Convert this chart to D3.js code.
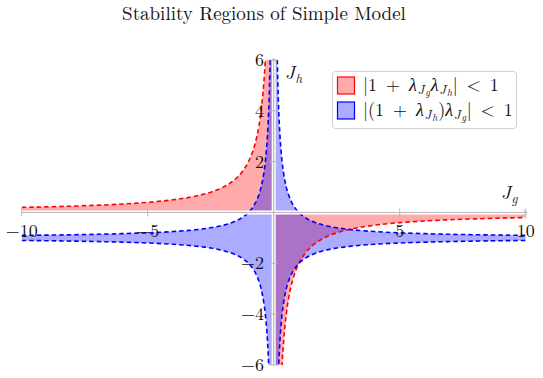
<!DOCTYPE html>
<html>
<head>
<meta charset="utf-8">
<script src="https://cdn.jsdelivr.net/npm/d3@7"></script>
<style>
  body { margin: 0; background: #fff; }
  svg text { font-family: "Latin Modern Roman", "Liberation Serif", serif; }
</style>
</head>
<body>
<div id="chart"></div>
<script>
// sample points, left branches (x < 0) and right branches (x > 0)
const xLeft = [-10, -8, -6, -5, -4, -3, -2.5, -2, -1.6, -1.25, -1, -0.8, -0.667, -0.5, -0.4, -0.333,
  -0.286, -0.25, -0.222, -0.2, -0.182, -0.167, -0.154, -0.143, -0.13, -0.05];
const redLeft = [0.2, 0.25, 0.333, 0.4, 0.5, 0.667, 0.8, 1, 1.25, 1.6, 2, 2.5, 3, 4, 5, 6,
  7, 8, 9, 10, 11, 12, 13, 14, 15.4, 40];
const blueUpLeft = [-0.9, -0.875, -0.833, -0.8, -0.75, -0.667, -0.6, -0.5, -0.375, -0.2, 0, 0.25, 0.5, 1, 1.5, 2,
  2.5, 3, 3.5, 4, 4.5, 5, 5.5, 6, 6.7, 19];
const blueLoLeft = [-1.1, -1.125, -1.167, -1.2, -1.25, -1.333, -1.4, -1.5, -1.625, -1.8, -2, -2.25, -2.5, -3, -3.5, -4,
  -4.5, -5, -5.5, -6, -6.5, -7, -7.5, -8, -8.7, -21];

const xRight = [0.05, 0.13, 0.143, 0.154, 0.167, 0.182, 0.2, 0.222, 0.25, 0.286, 0.333, 0.4, 0.5, 0.667, 0.8,
  1, 1.25, 1.6, 2, 2.5, 3, 4, 5, 6, 8, 10];
const redRight = [-40, -15.4, -14, -13, -12, -11, -10, -9, -8, -7, -6, -5, -4, -3, -2.5,
  -2, -1.6, -1.25, -1, -0.8, -0.667, -0.5, -0.4, -0.333, -0.25, -0.2];
const blueUpRight = [19, 6.7, 6, 5.5, 5, 4.5, 4, 3.5, 3, 2.5, 2, 1.5, 1, 0.5, 0.25,
  0, -0.2, -0.375, -0.5, -0.6, -0.667, -0.75, -0.8, -0.833, -0.875, -0.9];
const blueLoRight = [-21, -8.7, -8, -7.5, -7, -6.5, -6, -5.5, -5, -4.5, -4, -3.5, -3, -2.5, -2.25,
  -2, -1.8, -1.625, -1.5, -1.4, -1.333, -1.25, -1.2, -1.167, -1.125, -1.1];

const xTicks = [-10, -5, 5, 10];
const yTicks = [-6, -4, -2, 2, 4, 6];

const W = 543, H = 378;
const svg = d3.select('#chart').append('svg')
    .attr('width', W)
    .attr('height', H);

const x = d3.scaleLinear().domain([-10, 10]).range([21.7, 525.7]);
const y = d3.scaleLinear().domain([-6, 6]).range([365, 60]);

svg.append('text')
    .attr('x', 264)
    .attr('y', 20)
    .attr('text-anchor', 'middle')
    .style('font-size', '19px')
    .style('fill', '#111')
    .text('Stability Regions of Simple Model');

svg.append('clipPath').attr('id', 'clip')
  .append('rect')
    .attr('x', x(-10)).attr('y', y(6))
    .attr('width', x(10) - x(-10)).attr('height', y(-6) - y(6));

const plot = svg.append('g').attr('clip-path', 'url(#clip)');

const zip = (xs, a, b) => xs.map((v, i) => ({ x: v, lo: a[i], hi: b[i] }));

const area = d3.area()
    .curve(d3.curveMonotoneX)
    .x(d => x(d.x))
    .y0(d => y(d.lo))
    .y1(d => y(d.hi));

const line = d3.line()
    .curve(d3.curveMonotoneX)
    .x(d => x(d[0]))
    .y(d => y(d[1]));

const zeros = xLeft.map(() => 0);

// red region first, blue on top
plot.append('path').datum(zip(xLeft, zeros, redLeft)).attr('d', area)
    .attr('fill', 'red').attr('fill-opacity', 0.33);
plot.append('path').datum(zip(xRight, redRight, zeros)).attr('d', area)
    .attr('fill', 'red').attr('fill-opacity', 0.33);
plot.append('path').datum(zip(xLeft, blueLoLeft, blueUpLeft)).attr('d', area)
    .attr('fill', 'blue').attr('fill-opacity', 0.33);
plot.append('path').datum(zip(xRight, blueLoRight, blueUpRight)).attr('d', area)
    .attr('fill', 'blue').attr('fill-opacity', 0.33);

// axes with white halo
const axisG = svg.append('g');
const ax0 = x(0), ay0 = y(0);
[['white', 4], ['#b8b8b8', 1.2]].forEach(([c, w]) => {
  axisG.append('line').attr('x1', x(-10)).attr('x2', x(10) + 1.5)
      .attr('y1', ay0).attr('y2', ay0).attr('stroke', c).attr('stroke-width', w);
  axisG.append('line').attr('x1', ax0).attr('x2', ax0)
      .attr('y1', y(-6)).attr('y2', y(6) - 1.5).attr('stroke', c).attr('stroke-width', w);
});
// arrow heads
axisG.append('path')
    .attr('d', `M${x(10) - 3},${ay0 - 3} L${x(10) + 1.5},${ay0} L${x(10) - 3},${ay0 + 3}`)
    .attr('fill', 'none').attr('stroke', '#b8b8b8').attr('stroke-width', 0.8);
axisG.append('path')
    .attr('d', `M${ax0 - 3},${y(6) + 3} L${ax0},${y(6) - 1.5} L${ax0 + 3},${y(6) + 3}`)
    .attr('fill', 'none').attr('stroke', '#b8b8b8').attr('stroke-width', 0.8);

// tick marks
axisG.selectAll('.xt').data(xTicks).join('line')
    .attr('x1', d => x(d)).attr('x2', d => x(d))
    .attr('y1', ay0 - 4).attr('y2', ay0 + 4)
    .attr('stroke', '#b8b8b8').attr('stroke-width', 1);
axisG.selectAll('.yt').data(yTicks).join('line')
    .attr('x1', ax0 - 4).attr('x2', ax0 + 4)
    .attr('y1', d => y(d)).attr('y2', d => y(d))
    .attr('stroke', '#b8b8b8').attr('stroke-width', 1);

// dashed boundary lines
const pairs = (xs, ys) => xs.map((v, i) => [v, ys[i]]);
const dashes = [
  [pairs(xLeft, redLeft), 'red'],
  [pairs(xRight, redRight), 'red'],
  [pairs(xLeft, blueUpLeft), 'blue'],
  [pairs(xLeft, blueLoLeft), 'blue'],
  [pairs(xRight, blueUpRight), 'blue'],
  [pairs(xRight, blueLoRight), 'blue']
];
dashes.forEach(([pts, c]) => {
  plot.append('path').datum(pts).attr('d', line)
      .attr('fill', 'none').attr('stroke', c)
      .attr('stroke-width', 1.6).attr('stroke-dasharray', '4.5,3');
});

// tick labels
const fmt = v => v < 0 ? '\u2212' + Math.abs(v) : String(v);
svg.selectAll('.xl').data(xTicks).join('text')
    .attr('x', d => x(d)).attr('y', 237)
    .attr('text-anchor', 'middle')
    .style('font-size', '18px').style('fill', '#111')
    .text(fmt);
svg.selectAll('.yl').data(yTicks).join('text')
    .attr('x', 264).attr('y', d => y(d) + 6)
    .attr('text-anchor', 'end')
    .style('font-size', '18px').style('fill', '#111')
    .text(fmt);

// axis titles
function mathLabel(g, px, py, main, sub) {
  const t = g.append('text').attr('x', px).attr('y', py)
      .style('font-size', '19px').style('font-style', 'italic').style('fill', '#111');
  t.append('tspan').text(main);
  t.append('tspan').attr('dy', 4).attr('dx', 0.5).style('font-size', '13px').text(sub);
}
mathLabel(svg, 285, 79, 'J', 'h');
mathLabel(svg, 501, 199, 'J', 'g');

// legend
const leg = svg.append('g');
leg.append('rect')
    .attr('x', 332.5).attr('y', 71.5).attr('width', 184).attr('height', 57).attr('rx', 3)
    .attr('fill', 'white').attr('stroke', '#d0d0d0').attr('stroke-width', 1);

const legendItems = [
  { c: 'red', parts: [['|1 + ', 0], ['λ', 0, 1], ['J', 1, 1], ['g', 2, 1], ['λ', 0, 1], ['J', 1, 1], ['h', 2, 1], ['| < 1', 0]] },
  { c: 'blue', parts: [['|(1 + ', 0], ['λ', 0, 1], ['J', 1, 1], ['h', 2, 1], [')', 0], ['λ', 0, 1], ['J', 1, 1], ['g', 2, 1], ['| < 1', 0]] }
];
const levelDy = [0, 3.5, 2];
const levelSize = [18, 13, 10];
legendItems.forEach((it, i) => {
  const cy = 85.5 + i * 25;
  leg.append('rect')
      .attr('x', 337.5).attr('y', cy - 8.5).attr('width', 17).attr('height', 17)
      .attr('fill', it.c).attr('fill-opacity', 0.33)
      .attr('stroke', it.c).attr('stroke-width', 1.2);
  const t = leg.append('text').attr('x', 363).attr('y', cy + 5)
      .style('fill', '#111');
  let lvl = 0;
  it.parts.forEach(([s, l, it2]) => {
    const dy = d3.sum(levelDy.slice(0, l + 1)) - d3.sum(levelDy.slice(0, lvl + 1));
    t.append('tspan')
        .attr('dy', dy)
        .attr('dx', l > lvl ? 0.8 : (l < lvl ? 0.8 : 0))
        .style('font-size', levelSize[l] + 'px')
        .style('font-style', it2 ? 'italic' : 'normal')
        .text(s.replace(/ ([+<]) /g, '\u2002$1\u2002'));
    lvl = l;
  });
});
</script>
</body>
</html>
